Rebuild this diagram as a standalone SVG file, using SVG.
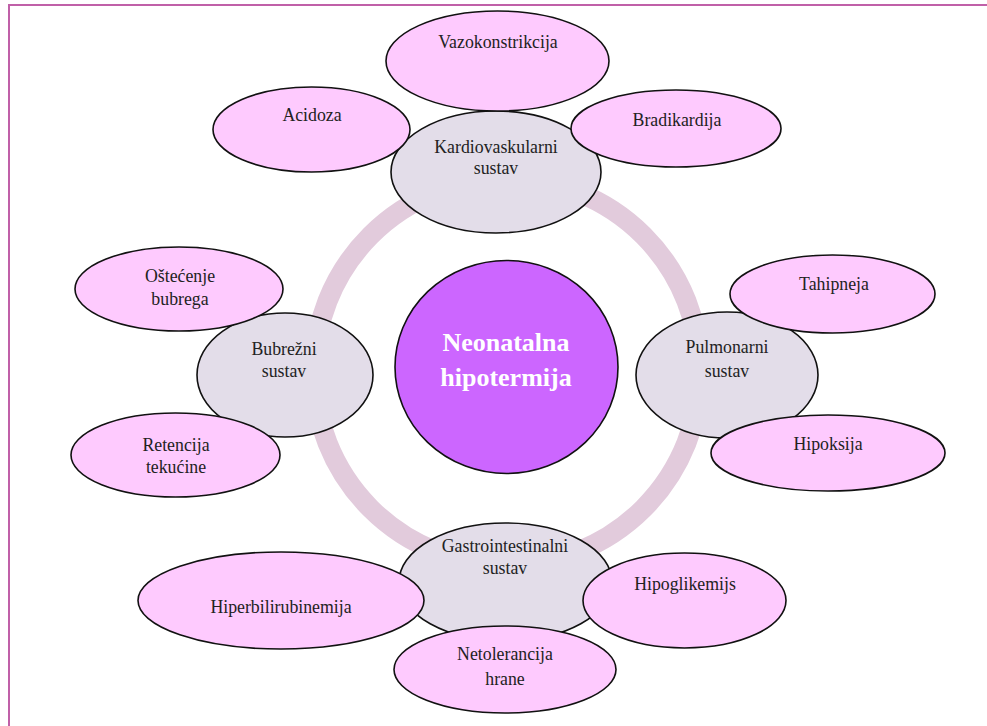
<svg xmlns="http://www.w3.org/2000/svg" width="987" height="726" viewBox="0 0 987 726" font-family="Liberation Serif, Times New Roman, Tinos, DejaVu Serif, serif">
<style>
.pink{fill:#fecafe;stroke:#111;stroke-width:1.6}
.gray{fill:#e3dde9;stroke:#111;stroke-width:1.6}
.t{font-size:17.8px;fill:#222;text-anchor:middle}
.c{font-size:26px;font-weight:bold;fill:#fff;text-anchor:middle}
</style>
<rect x="0" y="0" width="987" height="726" fill="#fff"/>
<rect x="9" y="5" width="1000" height="740" fill="none" stroke="#c060a8" stroke-width="2"/>
<g id="connectors">
<circle cx="507" cy="372" r="193" fill="none" stroke="#e2cbdc" stroke-width="20"/>
</g>
<g id="center">
<ellipse cx="506.5" cy="367" rx="111.5" ry="106.5" fill="#cc66ff" stroke="#111" stroke-width="1.6"/>
<text class="c" x="506" y="351">Neonatalna</text>
<text class="c" x="506" y="386">hipotermija</text>
</g>
<g id="kardio">
<ellipse class="gray" cx="496" cy="172" rx="105" ry="61"/>
<text class="t" x="496" y="153">Kardiovaskularni</text>
<text class="t" x="496" y="174">sustav</text>
</g>
<g id="bubrezni">
<ellipse class="gray" cx="285" cy="375" rx="88" ry="62"/>
<text class="t" x="284" y="355">Bubrežni</text>
<text class="t" x="284" y="377">sustav</text>
</g>
<g id="pulmonarni">
<ellipse class="gray" cx="727" cy="375" rx="91" ry="63"/>
<text class="t" x="727" y="353">Pulmonarni</text>
<text class="t" x="727" y="377">sustav</text>
</g>
<g id="gastro">
<ellipse class="gray" cx="505.5" cy="582" rx="106.5" ry="59"/>
<text class="t" x="505" y="552">Gastrointestinalni</text>
<text class="t" x="505" y="574">sustav</text>
</g>
<g id="vazokonstrikcija">
<ellipse class="pink" cx="497.5" cy="61" rx="111.5" ry="50"/>
<text class="t" x="498" y="48">Vazokonstrikcija</text>
</g>
<g id="acidoza">
<ellipse class="pink" cx="311.5" cy="129.5" rx="98.5" ry="42.5"/>
<text class="t" x="312" y="121">Acidoza</text>
</g>
<g id="bradikardija">
<ellipse class="pink" cx="676" cy="128.5" rx="105" ry="38.5"/>
<text class="t" x="677" y="126">Bradikardija</text>
</g>
<g id="tahipneja">
<ellipse class="pink" cx="832.5" cy="294" rx="102.5" ry="39"/>
<text class="t" x="834" y="290">Tahipneja</text>
</g>
<g id="hipoksija">
<ellipse class="pink" cx="828" cy="453" rx="117" ry="38"/>
<text class="t" x="828" y="450">Hipoksija</text>
</g>
<g id="ostecenje">
<ellipse class="pink" cx="179" cy="289" rx="104" ry="42"/>
<text class="t" x="180" y="282">Oštećenje</text>
<text class="t" x="180" y="305">bubrega</text>
</g>
<g id="retencija">
<ellipse class="pink" cx="175.5" cy="455" rx="104.5" ry="42"/>
<text class="t" x="176" y="451">Retencija</text>
<text class="t" x="176" y="473">tekućine</text>
</g>
<g id="hiperbilirubinemija">
<ellipse class="pink" cx="281" cy="600.5" rx="143" ry="48.5"/>
<text class="t" x="281" y="613">Hiperbilirubinemija</text>
</g>
<g id="netolerancija">
<ellipse class="pink" cx="505" cy="669.5" rx="111" ry="43.5"/>
<text class="t" x="505" y="660">Netolerancija</text>
<text class="t" x="505" y="685">hrane</text>
</g>
<g id="hipoglikemijs">
<ellipse class="pink" cx="684.5" cy="600.5" rx="101.5" ry="47.5"/>
<text class="t" x="685" y="590">Hipoglikemijs</text>
</g>
</svg>
